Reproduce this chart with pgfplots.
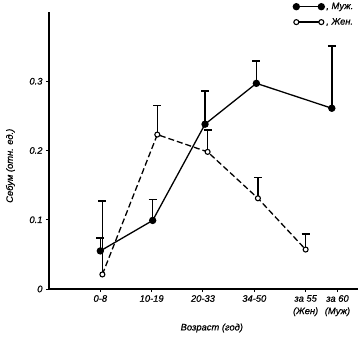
\documentclass[border=0pt]{standalone}
\usepackage{fontspec}
\setmainfont{Liberation Sans}[AutoFakeBold=1.5]
\usepackage{pgfplots}
\pgfplotsset{compat=1.18}
\newcommand{\lf}{\fontsize{9.4}{12.5}\selectfont\itshape\addfontfeatures{FakeBold=0.6}}
\begin{document}
\begin{tikzpicture}
\useasboundingbox (0bp,0bp) rectangle (360bp,339bp);
\begin{axis}[
  at={(49bp,50bp)}, anchor=origin,
  scale only axis, width=309bp, height=277bp,
  xmin=0, xmax=6.02, ymin=0, ymax=0.4,
  axis x line=bottom, axis y line=left,
  axis line style={line width=1.7bp,-},
  tick align=outside, major tick length=3bp,
  tick style={line width=1bp,black},
  xtick={1,2,3,4,5,5.62},
  xticklabels={0-8,10-19,20-33,34-50,{за 55\\(Жен)},{за 60\\(Муж)}},
  xticklabel style={align=center, font=\lf, inner sep=1bp, yshift=-2bp},
  ytick={0,0.1,0.2,0.3},
  yticklabels={0,0.1,0.2,0.3},
  yticklabel style={font=\lf},
  xlabel={Возраст (год)},
  xlabel style={font=\lf, at={(rel axis cs:0.527,0)}, anchor=center, yshift=-39bp},
  ylabel={Себум (отн. ед.)},
  ylabel style={font=\lf, at={(rel axis cs:-0.125,0.445)}, anchor=center},
  legend style={at={(rel axis cs:0.995,1.045)}, anchor=north east, draw=none, fill=none,
    font=\lf, row sep=3.5bp, inner sep=1bp},
  legend cell align=left,
  legend image code/.code={\draw[#1,solid] plot coordinates {(0bp,0bp) (25bp,0bp)};},
  error bars/error bar style={line width=1.6bp, solid},
  error bars/error mark options={rotate=90, mark size=4bp, line width=1.6bp, solid},
]
\addplot[black, line width=1.3bp, mark=*, mark size=3bp,
  mark options={solid},
  error bars/.cd, y dir=plus, y explicit]
  coordinates {
  (1.00,0.055) +- (0,0.019)
  (2.02,0.099) +- (0,0.030)
  (3.04,0.238) +- (0,0.048)
  (4.04,0.297) +- (0,0.032)
  (5.51,0.261) +- (0,0.090)
  };
\addlegendentry{, Муж.}
\addplot[black, line width=1.3bp, dash pattern=on 6bp off 3bp, mark=*, mark size=2.5bp,
  mark options={solid, fill=white, line width=1.1bp},
  error bars/.cd, y dir=plus, y explicit]
  coordinates {
  (1.04,0.021) +- (0,0.106)
  (2.11,0.223) +- (0,0.042)
  (3.09,0.198) +- (0,0.032)
  (4.07,0.131) +- (0,0.030)
  (5.00,0.057) +- (0,0.022)
  };
\addlegendentry{, Жен.}
\end{axis}
\end{tikzpicture}
\end{document}
